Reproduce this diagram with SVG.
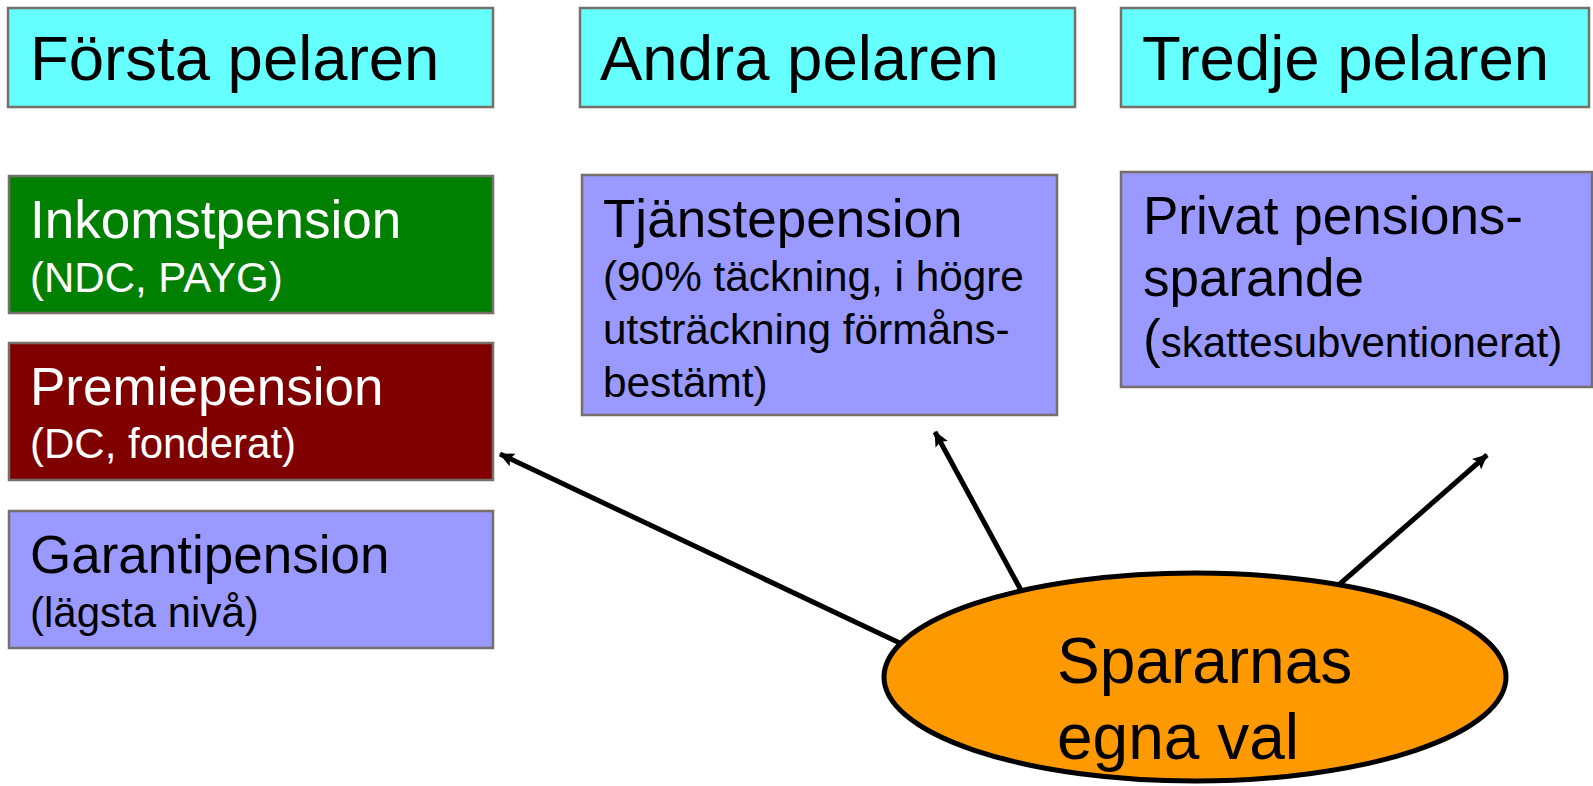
<svg xmlns="http://www.w3.org/2000/svg" width="1593" height="786" viewBox="0 0 1593 786">
<defs>
<style>
.box{stroke:#776f69;stroke-width:2.5}
.hdr{fill:#66ffff}
.lav{fill:#9999ff}
.t{font-family:"Liberation Sans",Arial,sans-serif;fill:#000}
.w{fill:#fff}
.h{font-size:63.5px}
.m{font-size:53px}
.s{font-size:42px}
.conn{stroke:#000;stroke-width:5;fill:none;marker-end:url(#ah)}
</style>
<marker id="ah" markerUnits="userSpaceOnUse" markerWidth="16" markerHeight="14" refX="14" refY="7" orient="auto" viewBox="0 0 16 14">
<path d="M0,0 L15,7 L0,14 L3,7 z" fill="#000"/>
</marker>
</defs>
<g id="hdr1"><rect class="box hdr" x="8" y="8" width="485" height="99"/><text class="t h" x="30" y="80">Första pelaren</text></g>
<g id="hdr2"><rect class="box hdr" x="580" y="8" width="495" height="99"/><text class="t h" x="600" y="80">Andra pelaren</text></g>
<g id="hdr3"><rect class="box hdr" x="1121" y="8" width="468" height="99"/><text class="t h" x="1142" y="80">Tredje pelaren</text></g>
<g id="inkomst"><rect class="box" fill="#008000" x="9" y="176" width="484" height="137"/><text class="t m w" x="30" y="238">Inkomstpension</text><text class="t s w" x="30" y="292">(NDC, PAYG)</text></g>
<g id="premie"><rect class="box" fill="#800000" x="9" y="343" width="484" height="137"/><text class="t m w" x="30" y="405">Premiepension</text><text class="t s w" x="30" y="458">(DC, fonderat)</text></g>
<g id="garanti"><rect class="box lav" x="9" y="511" width="484" height="137"/><text class="t m" x="30" y="573">Garantipension</text><text class="t s" x="30" y="627">(lägsta nivå)</text></g>
<g id="tjanst"><rect class="box lav" x="582" y="175" width="475" height="240"/><text class="t m" x="603" y="237">Tjänstepension</text><text class="t" font-size="42.3" x="603" y="291">(90% täckning, i högre</text><text class="t" font-size="42.3" x="603" y="344">utsträckning förmåns-</text><text class="t" font-size="42.3" x="603" y="397">bestämt)</text></g>
<g id="privat"><rect class="box lav" x="1121" y="172" width="471" height="215"/><text class="t m" x="1143" y="234">Privat pensions-</text><text class="t m" x="1143" y="296">sparande</text><text class="t" x="1143" y="357"><tspan font-size="53">(</tspan><tspan font-size="42">skattesubventionerat)</tspan></text></g>
<g id="connectors">
<line class="conn" x1="904" y1="645" x2="500" y2="454"/>
<line class="conn" x1="1022" y1="592" x2="935" y2="432"/>
<line class="conn" x1="1333" y1="590" x2="1487" y2="455"/>
</g>
<g id="sparare"><ellipse cx="1195" cy="677" rx="311" ry="104" fill="#ff9900" stroke="#000" stroke-width="5"/><text class="t" font-size="64" x="1057" y="683">Spararnas</text><text class="t" font-size="64" x="1057" y="759">egna val</text></g>
</svg>
